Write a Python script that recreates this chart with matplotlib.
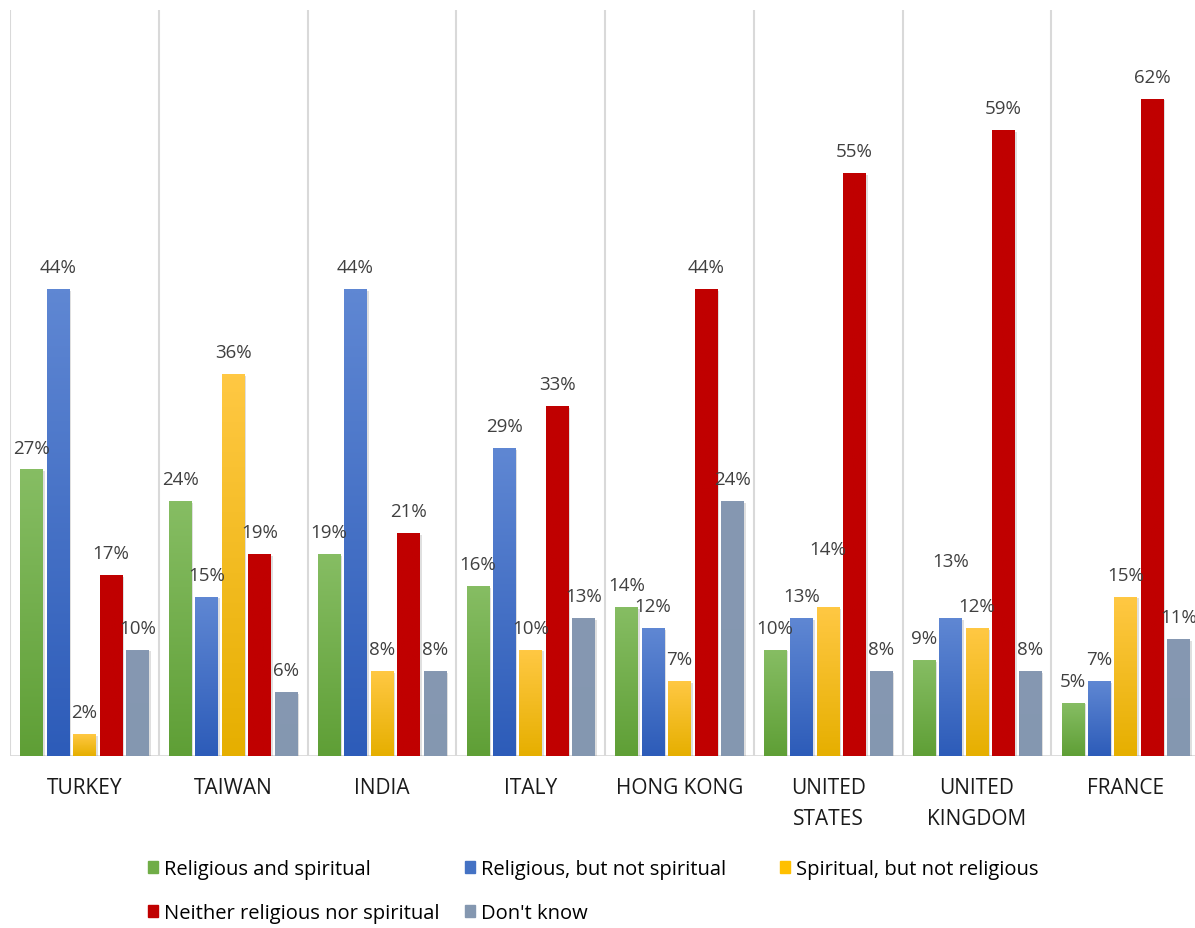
import numpy as np
import matplotlib
matplotlib.use("Agg")
import matplotlib.pyplot as plt
import matplotlib.patheffects as pe
from matplotlib.patches import Patch
from matplotlib.colors import to_rgb

# Datos del gráfico
paises = ["TURKEY", "TAIWAN", "INDIA", "ITALY", "HONG KONG",
          "UNITED\nSTATES", "UNITED\nKINGDOM", "FRANCE"]
series = ["Religious and spiritual", "Religious, but not spiritual",
          "Spiritual, but not religious", "Neither religious nor spiritual",
          "Don't know"]
rel_y_esp = [27, 24, 19, 16, 14, 10, 9, 5]
rel_no_esp = [44, 15, 44, 29, 12, 13, 13, 7]
esp_no_rel = [2, 36, 8, 10, 7, 14, 12, 15]
ninguno = [17, 19, 21, 33, 44, 55, 59, 62]
no_sabe = [10, 6, 8, 13, 24, 8, 8, 11]
valores = [rel_y_esp, rel_no_esp, esp_no_rel, ninguno, no_sabe]

# Colores (arriba, abajo) para el degradado de cada serie
colores = [("#86BD63", "#5F9F36"),
           ("#5F87D3", "#2D5CB9"),
           ("#FFC843", "#E6AF00"),
           ("#C00000", "#C00000"),
           ("#8698B2", "#8497B0")]
color_leyenda = ["#70AD47", "#4472C4", "#FFC000", "#C00000", "#8497B0"]

# Etiquetas que Excel desplazó hacia arriba (serie, país): puntos extra
desplazar = {(2, 5): 26, (1, 6): 25}

plt.rcParams["font.family"] = ["Open Sans", "DejaVu Sans"]

W, H = 1195, 929
fig = plt.figure(figsize=(W / 100, H / 100), dpi=100)
ax = fig.add_axes([10 / W, (H - 757) / H, 1190 / W, 746 / H])

x = np.arange(len(paises))
paso = 0.178
ancho = 0.15

for i, vals in enumerate(valores):
    pos = x + (i - 2) * paso
    barras = ax.bar(pos, vals, width=ancho, color=colores[i][1], zorder=3,
                    path_effects=[pe.SimplePatchShadow(offset=(1.5, -1.0), alpha=0.25,
                                                       shadow_rgbFace="gray"),
                                  pe.Normal()])
    arriba = np.array(to_rgb(colores[i][0]))
    abajo = np.array(to_rgb(colores[i][1]))
    t = np.linspace(0, 1, 64)[:, None]
    grad = (abajo + (arriba - abajo) * t)[:, None, :]
    for j, b in enumerate(barras):
        bx, bw, bh = b.get_x(), b.get_width(), b.get_height()
        ax.imshow(grad, extent=[bx, bx + bw, 0, bh], origin="lower",
                  aspect="auto", zorder=3.5, interpolation="bilinear")
        extra = desplazar.get((i, j), 0)
        ax.annotate(f"{vals[j]}%", (bx + bw / 2, bh), xytext=(0, 12.5 + extra),
                    textcoords="offset points", ha="center", va="baseline",
                    fontsize=13.5, color="#404040", zorder=5)

# Líneas verticales entre categorías y línea base
for k in range(len(paises) + 1):
    ax.axvline(k - 0.5, color="#D9D9D9", lw=1.5, zorder=1)
ax.axhline(0, color="#D9D9D9", lw=2, zorder=2)

ax.set_xlim(-0.5, len(paises) - 0.5)
ax.set_ylim(0, 70.4)
ax.set_yticks([])
ax.set_xticks(x)
ax.set_xticklabels(paises, fontsize=15, color="#1A1A1A", linespacing=1.65)
ax.tick_params(axis="x", length=0, pad=15)
for s in ax.spines.values():
    s.set_visible(False)

# Leyenda: tres columnas de ancho fijo, como en Excel
manijas = [Patch(color=c) for c in color_leyenda]
columnas_x = [148, 465, 780]
for c, cx in enumerate(columnas_x):
    idx = [i for i in range(len(series)) if i % 3 == c]
    leg = fig.legend([manijas[i] for i in idx], [series[i] for i in idx],
                     loc="upper left", bbox_to_anchor=(cx / W, (H - 860) / H),
                     frameon=False, fontsize=14.5, handlelength=0.5,
                     handleheight=0.5, handletextpad=0.3, labelspacing=1.2,
                     borderpad=0, borderaxespad=0)
    for txt in leg.get_texts():
        txt.set_color("#000000")

fig.savefig("out.png", dpi=100)
